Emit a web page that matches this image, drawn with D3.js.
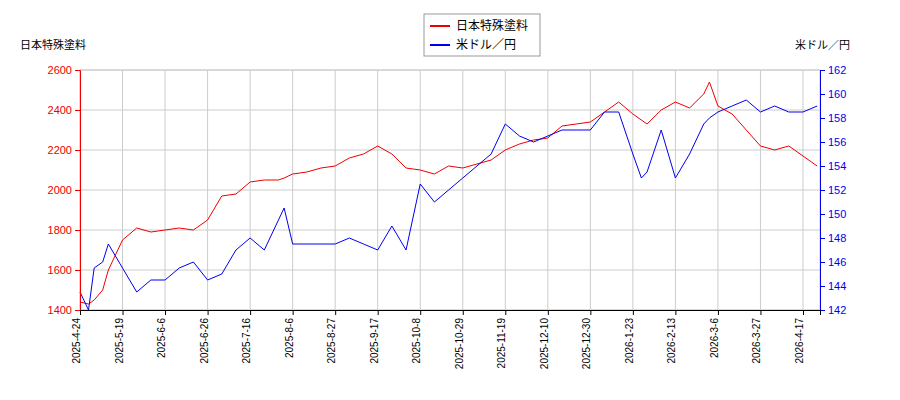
<!DOCTYPE html>
<html><head><meta charset="utf-8">
<script src="https://cdn.jsdelivr.net/npm/d3@7"></script>
<style>body{margin:0;background:#fff;font-family:"Noto Sans CJK JP","DejaVu Sans",sans-serif;}</style>
</head><body>
<svg id="chart" width="900" height="400"></svg>
<script>
// trading-day index of each tick label
const tickIdx = d3.range(0, 256, 15);
const tickLabels = ["2025-4-24","2025-5-19","2025-6-6","2025-6-26","2025-7-16","2025-8-6","2025-8-27","2025-9-17","2025-10-8","2025-10-29","2025-11-19","2025-12-10","2025-12-30","2026-1-23","2026-2-13","2026-3-6","2026-3-27","2026-4-17"];
// sampled every 5 trading days
const sampleIdx = [0,3,5,8,10,15,20,25,30,35,40,45,50,55,60,65,70,72,75,80,85,90,95,100,105,110,115,120,125,130,135,140,145,150,155,160,165,170,175,180,185,190,195,198,200,205,210,215,220,222,225,230,235,240,245,250,255,260];
const stockVals = [1440,1430,1450,1500,1600,1750,1810,1790,1800,1810,1800,1850,1970,1980,2040,2050,2050,2060,2080,2090,2110,2120,2160,2180,2220,2180,2110,2100,2080,2120,2110,2130,2150,2200,2230,2250,2260,2320,2330,2340,2390,2440,2380,2350,2330,2400,2440,2410,2480,2540,2420,2380,2300,2220,2200,2220,2170,2120];
const usdVals = [143.5,142,145.5,146,147.5,145.5,143.5,144.5,144.5,145.5,146,144.5,145,147,148,147,149.5,150.5,147.5,147.5,147.5,147.5,148,147.5,147,149,147,152.5,151,152,153,154,155,157.5,156.5,156,156.5,157,157,157,158.5,158.5,155,153,153.5,157,153,155,157.5,158,158.5,159,159.5,158.5,159,158.5,158.5,159];

const svg = d3.select("#chart");
const m = {l:80, r:820, t:70, b:310};
const x = d3.scaleLinear().domain([0, 261]).range([m.l, m.r]);
const yL = d3.scaleLinear().domain([1400, 2600]).range([m.b, m.t]);
const yR = d3.scaleLinear().domain([142, 162]).range([m.b, m.t]);

// grid
svg.append("g").selectAll("line").data(yL.ticks(6)).join("line")
  .attr("x1", m.l).attr("x2", m.r).attr("y1", d => yL(d)).attr("y2", d => yL(d))
  .attr("stroke", "#ccc");
svg.append("g").selectAll("line").data(tickIdx).join("line")
  .attr("x1", d => x(d)).attr("x2", d => x(d)).attr("y1", m.t).attr("y2", m.b)
  .attr("stroke", "#ccc");
svg.append("rect").attr("x", m.l).attr("y", m.t).attr("width", m.r - m.l).attr("height", m.b - m.t)
  .attr("fill", "none").attr("stroke", "#ccc");

const pts = (vals) => sampleIdx.map((d, i) => [d, vals[i]]);
svg.append("path").datum(pts(stockVals))
  .attr("fill", "none").attr("stroke", "#e00").attr("stroke-width", 1)
  .attr("d", d3.line().x(d => x(d[0])).y(d => yL(d[1])));
svg.append("path").datum(pts(usdVals))
  .attr("fill", "none").attr("stroke", "#00e").attr("stroke-width", 1)
  .attr("d", d3.line().x(d => x(d[0])).y(d => yR(d[1])));

// axes
const left = svg.append("g").attr("transform", `translate(${m.l},0)`)
  .call(d3.axisLeft(yL).tickValues(d3.range(1400, 2601, 200)).tickFormat(d3.format("d")).tickSize(5));
left.select(".domain").attr("stroke", "#e00");
left.selectAll(".tick line").attr("stroke", "#e00");
left.selectAll("text").attr("fill", "#e00").style("font-size", "11px");

const right = svg.append("g").attr("transform", `translate(${m.r},0)`)
  .call(d3.axisRight(yR).tickValues(d3.range(142, 163, 2)).tickSize(5));
right.select(".domain").attr("stroke", "#00e");
right.selectAll(".tick line").attr("stroke", "#00e");
right.selectAll("text").attr("fill", "#00e").style("font-size", "11px");

const bottom = svg.append("g").attr("transform", `translate(0,${m.b})`)
  .call(d3.axisBottom(x).tickValues(tickIdx).tickFormat((d, i) => tickLabels[i]).tickSize(5));
bottom.selectAll("text").attr("transform", "rotate(-90)").attr("text-anchor", "end")
  .attr("x", -8).attr("y", -4).attr("dy", "0.35em").style("font-size", "10px");

svg.append("text").attr("x", 20).attr("y", 49).style("font-size", "11px").text("日本特殊塗料");
svg.append("text").attr("x", 850).attr("y", 49).attr("text-anchor", "end").style("font-size", "11px").text("米ドル／円");

// legend
const lg = svg.append("g");
lg.append("rect").attr("x", 424).attr("y", 14).attr("width", 116).attr("height", 42)
  .attr("fill", "#fff").attr("stroke", "#999");
[["日本特殊塗料", "#e00"], ["米ドル／円", "#00e"]].forEach(([t, c], i) => {
  const yy = 26 + i * 19;
  lg.append("line").attr("x1", 430).attr("x2", 450).attr("y1", yy).attr("y2", yy).attr("stroke", c).attr("stroke-width", 2);
  lg.append("text").attr("x", 456).attr("y", yy + 4).style("font-size", "12px").text(t);
});
</script>
</body></html>
